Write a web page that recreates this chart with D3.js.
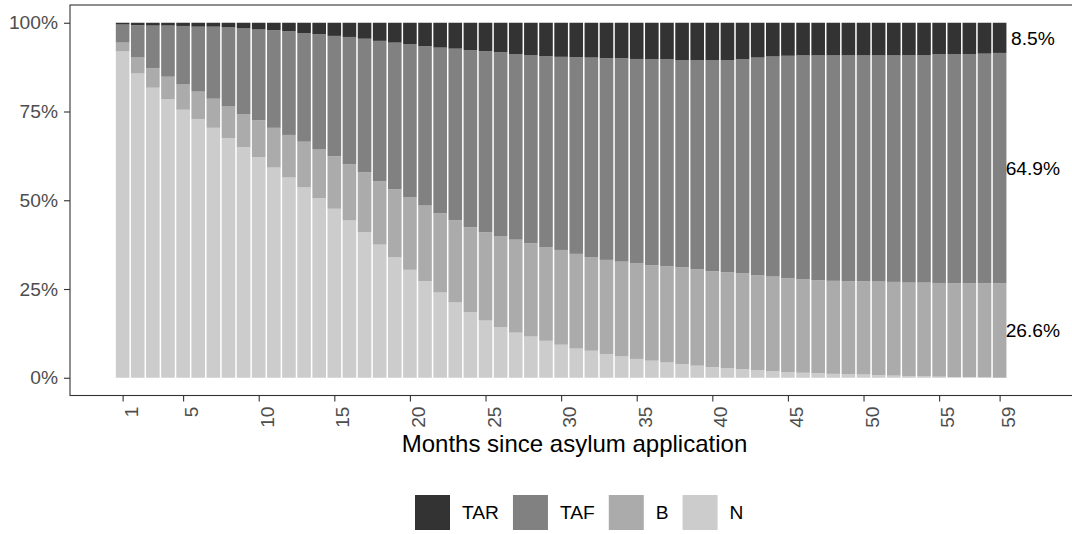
<!DOCTYPE html>
<html>
<head>
<meta charset="utf-8">
<script src="https://cdn.jsdelivr.net/npm/d3@7"></script>
<style>
  body { margin: 0; background: #ffffff; }
  svg { display: block; }
  text { font-family: "Liberation Sans", Arial, Helvetica, sans-serif; }
</style>
</head>
<body>
<svg id="chart" width="1072" height="534"></svg>
<script>
// Months since the asylum application (one stacked bar per month)
const months = [1, 2, 3, 4, 5, 6, 7, 8, 9, 10, 11, 12, 13, 14, 15, 16, 17, 18, 19, 20,
  21, 22, 23, 24, 25, 26, 27, 28, 29, 30, 31, 32, 33, 34, 35, 36, 37, 38, 39, 40,
  41, 42, 43, 44, 45, 46, 47, 48, 49, 50, 51, 52, 53, 54, 55, 56, 57, 58, 59];

// Legend order (top of the stack first)
const statusKeys = ["TAR", "TAF", "B", "N"];

// Share of people in each status, percent per month
const shareN = [91.9, 85.7, 81.7, 78.5, 75.5, 72.9, 70.4, 67.5, 64.9, 62.1,
  59.2, 56.4, 53.6, 50.6, 47.6, 44.3, 41.0, 37.5, 33.9, 30.4,
  27.2, 24.0, 21.2, 18.5, 16.1, 14.2, 12.7, 11.6, 10.4, 9.3,
  8.2, 7.6, 6.6, 6.0, 5.3, 4.8, 4.3, 3.8, 3.4, 3.0,
  2.7, 2.4, 2.1, 1.8, 1.6, 1.4, 1.3, 1.1, 1.0, 0.9,
  0.7, 0.6, 0.5, 0.4, 0.3, 0.2, 0.2, 0.1, 0.0];

const shareB = [2.5, 4.5, 5.5, 6.3, 7.1, 7.7, 8.2, 8.9, 9.4, 10.4,
  11.2, 12.0, 12.9, 13.7, 14.8, 15.8, 16.9, 17.9, 19.2, 20.4,
  21.3, 22.3, 23.2, 23.9, 24.9, 25.6, 26.2, 26.3, 26.4, 26.7,
  26.7, 26.4, 26.6, 26.7, 26.9, 26.9, 27.1, 27.3, 27.2, 27.0,
  27.0, 27.0, 26.8, 26.7, 26.4, 26.3, 26.2, 26.2, 26.2, 26.3,
  26.4, 26.4, 26.3, 26.4, 26.4, 26.4, 26.4, 26.5, 26.6];

const shareTAF = [5.1, 9.1, 12.0, 14.4, 16.5, 18.3, 20.3, 22.3, 24.1, 25.6,
  27.5, 29.2, 30.6, 32.5, 33.9, 35.9, 37.6, 39.5, 41.3, 43.2,
  44.9, 46.7, 48.3, 49.9, 51.0, 51.9, 52.3, 53.0, 53.8, 54.4,
  55.4, 56.2, 56.8, 57.3, 57.6, 58.0, 58.3, 58.4, 58.9, 59.5,
  59.8, 60.3, 61.3, 62.0, 62.7, 63.1, 63.3, 63.5, 63.6, 63.6,
  63.7, 63.8, 64.1, 64.1, 64.4, 64.5, 64.6, 64.7, 64.9];

const shareTAR = [0.5, 0.7, 0.8, 0.8, 0.9, 1.1, 1.1, 1.3, 1.6, 1.9,
  2.1, 2.4, 2.9, 3.2, 3.7, 4.0, 4.5, 5.1, 5.6, 6.0,
  6.6, 7.0, 7.3, 7.7, 8.0, 8.3, 8.8, 9.1, 9.4, 9.6,
  9.7, 9.8, 10.0, 10.0, 10.2, 10.3, 10.3, 10.5, 10.5, 10.5,
  10.5, 10.3, 9.8, 9.5, 9.3, 9.2, 9.2, 9.2, 9.2, 9.2,
  9.2, 9.2, 9.1, 9.1, 8.9, 8.9, 8.8, 8.7, 8.5];

// Axis tick values
const xTickValues = [1, 5, 10, 15, 20, 25, 30, 35, 40, 45, 50, 55, 59];
const yTickValues = [0, 0.25, 0.5, 0.75, 1];

const fills = { TAR: "#333333", TAF: "#818181", B: "#ABABAB", N: "#CCCCCC" };

const rows = months.map((m, i) => ({
  month: m, N: shareN[i], B: shareB[i], TAF: shareTAF[i], TAR: shareTAR[i]
}));
const seriesByKey = { N: shareN, B: shareB, TAF: shareTAF, TAR: shareTAR };

const layers = d3.stack()
  .keys(["N", "B", "TAF", "TAR"])
  .offset(d3.stackOffsetExpand)(rows);

const svg = d3.select("#chart");
const panel = { left: 70, right: 1079, top: 5, bottom: 395.5 };

const x = d3.scaleLinear().domain([-2.48, 64.25]).range([panel.left, panel.right]);
const y = d3.scaleLinear().domain([-0.05, 1.05]).range([panel.bottom, panel.top]);
const barWidth = x(0.9) - x(0);

// Stacked bars
const barsG = svg.append("g");
layers.forEach(layer => {
  barsG.append("g")
    .attr("fill", fills[layer.key])
    .selectAll("rect")
    .data(layer)
    .join("rect")
    .attr("x", d => x(d.data.month) - barWidth / 2)
    .attr("width", barWidth)
    .attr("y", d => y(d[1]))
    .attr("height", d => Math.max(0, y(d[0]) - y(d[1])));
});

// Panel border
svg.append("rect")
  .attr("x", panel.left).attr("y", panel.top)
  .attr("width", panel.right - panel.left)
  .attr("height", panel.bottom - panel.top)
  .attr("fill", "none")
  .attr("stroke", "#333333")
  .attr("stroke-width", 1.1);

// Y axis
const yAxis = svg.append("g")
  .attr("transform", `translate(${panel.left},0)`)
  .call(d3.axisLeft(y).tickValues(yTickValues).tickFormat(d3.format(".0%")).tickSize(6).tickPadding(6));
yAxis.select(".domain").remove();
yAxis.selectAll(".tick line").attr("stroke", "#333333").attr("stroke-width", 1.1);
yAxis.selectAll(".tick text")
  .attr("fill", "#4D4D4D")
  .style("font-size", "19.2px");

// X axis with rotated labels
const xAxis = svg.append("g")
  .attr("transform", `translate(0,${panel.bottom})`)
  .call(d3.axisBottom(x).tickValues(xTickValues).tickFormat(d3.format("d")).tickSize(6));
xAxis.select(".domain").remove();
xAxis.selectAll(".tick line").attr("stroke", "#333333").attr("stroke-width", 1.1);
xAxis.selectAll(".tick text")
  .attr("fill", "#4D4D4D")
  .style("font-size", "19.2px")
  .attr("transform", "rotate(-90)")
  .attr("text-anchor", "end")
  .attr("x", -11)
  .attr("y", 0)
  .attr("dy", "0.76em");

// X axis title
svg.append("text")
  .attr("x", (panel.left + panel.right) / 2)
  .attr("y", 451.7)
  .attr("text-anchor", "middle")
  .attr("fill", "#000000")
  .style("font-size", "24px")
  .text("Months since asylum application");

// Share labels beside the last month
const lastIdx = months.length - 1;
const lastMonth = months[lastIdx];
const lastLayers = layers.filter(l => seriesByKey[l.key][lastIdx] > 0);
svg.append("g")
  .selectAll("text")
  .data(lastLayers)
  .join("text")
  .attr("x", x(lastMonth + 2.2))
  .attr("y", l => y((l[lastIdx][0] + l[lastIdx][1]) / 2))
  .attr("dy", "0.35em")
  .attr("text-anchor", "middle")
  .attr("fill", "#000000")
  .style("font-size", "19.2px")
  .text(l => d3.format(".1f")(seriesByKey[l.key][lastIdx]) + "%");

// Legend
const legend = svg.append("g").attr("transform", "translate(415,495)");
let cursor = 0;
statusKeys.forEach(key => {
  legend.append("rect")
    .attr("x", cursor).attr("y", 0)
    .attr("width", 35).attr("height", 35)
    .attr("fill", fills[key]);
  const t = legend.append("text")
    .attr("x", cursor + 47)
    .attr("y", 17.5)
    .attr("dy", "0.35em")
    .attr("fill", "#000000")
    .style("font-size", "19.2px")
    .text(key);
  cursor += 47 + t.node().getComputedTextLength() + 14;
});
</script>
</body>
</html>
